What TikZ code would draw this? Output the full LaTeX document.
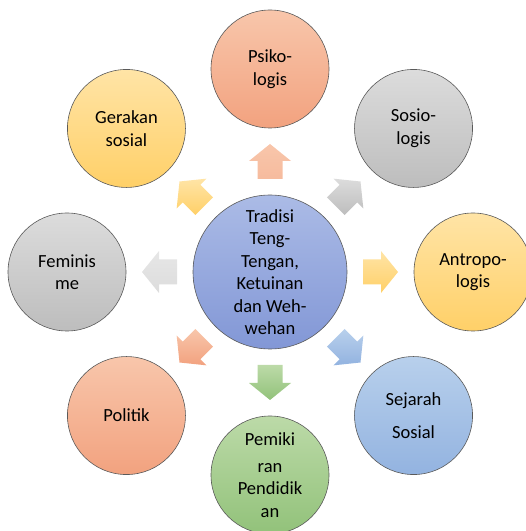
\documentclass[tikz,border=0pt]{standalone}
\usepackage{fontspec}
\setmainfont{Carlito}
\usetikzlibrary{calc}
\definecolor{salmonT}{HTML}{F8C6AB}
\definecolor{salmonB}{HTML}{F2A27F}
\definecolor{grayT}{HTML}{DCDCDC}
\definecolor{grayB}{HTML}{BDBDBD}
\definecolor{yelT}{HTML}{FFE4A6}
\definecolor{yelB}{HTML}{FFD068}
\definecolor{bluT}{HTML}{B8D0EC}
\definecolor{bluB}{HTML}{93B3E0}
\definecolor{grnT}{HTML}{BCDAA8}
\definecolor{grnB}{HTML}{92C27A}
\definecolor{cenT}{HTML}{ABBBE6}
\definecolor{cenB}{HTML}{8297D6}
\definecolor{rim}{HTML}{5A5A5A}
\tikzset{
  bubble/.style={circle, draw=rim, line width=0.6pt, minimum size=118pt, inner sep=0pt,
    align=center, font=\fontsize{18.5}{22.5}\selectfont, text=black},
  hub/.style={bubble, minimum size=154pt},
}
\newcommand\blockarrow[3]{%
  \begin{scope}[shift={(c.center)}, rotate=#1]
    \shade[top color=#2, bottom color=#3]
      (93,-12.5) -- (111,-12.5) -- (111,-21) -- (128,0) -- (111,21) -- (111,12.5) -- (93,12.5) -- cycle;
  \end{scope}}
\begin{document}
\begin{tikzpicture}[x=1pt,y=1pt]
\useasboundingbox (0,0) rectangle (526,531);
\begin{scope}
\clip (0,0) rectangle (526,531);
\node[hub, top color=cenT, bottom color=cenB] (c) at (270,259)
  {Tradisi\\Teng-\\Tengan,\\Ketuinan\\dan Weh-\\wehan};
\node[bubble, top color=salmonT, bottom color=salmonB] (psi) at ($(c)+(90:203)$) {Psiko-\\logis};
\node[bubble, top color=grayT, bottom color=grayB] (sos) at ($(c)+(45:203)$) {Sosio-\\logis};
\node[bubble, top color=yelT, bottom color=yelB] (ant) at ($(c)+(0:203)$) {Antropo-\\logis};
\node[bubble, top color=bluT, bottom color=bluB] (sej) at ($(c)+(-45:203)$) {Sejarah\\[10pt]Sosial};
\node[bubble, top color=grnT, bottom color=grnB] (pem) at ($(c)+(-90:203)$) {Pemiki\\[4pt]ran\\Pendidik\\an};
\node[bubble, top color=salmonT, bottom color=salmonB] (pol) at ($(c)+(-135:203)$) {Politik};
\node[bubble, top color=grayT, bottom color=grayB] (fem) at ($(c)+(180:203)$) {Feminis\\me};
\node[bubble, top color=yelT, bottom color=yelB] (ger) at ($(c)+(135:203)$) {Gerakan\\sosial};
\blockarrow{90}{salmonT}{salmonT!70!salmonB}
\blockarrow{45}{grayT}{grayB}
\blockarrow{0}{yelT}{yelB}
\blockarrow{-45}{bluT}{bluB}
\blockarrow{-90}{grnT}{grnB}
\blockarrow{-135}{salmonT}{salmonB}
\blockarrow{180}{grayT!70}{grayT}
\blockarrow{135}{yelT}{yelB}
\end{scope}
\end{tikzpicture}
\end{document}
